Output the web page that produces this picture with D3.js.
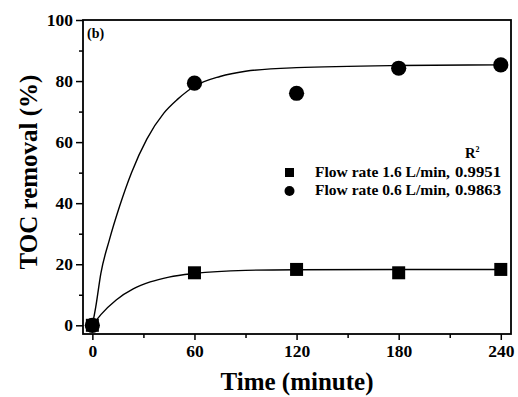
<!DOCTYPE html>
<html>
<head>
<meta charset="utf-8">
<script src="https://cdn.jsdelivr.net/npm/d3@7"></script>
<style>
  body { margin: 0; background: #fff; }
  svg { display: block; }
  svg text { font-family: "Liberation Serif", "Times New Roman", serif; font-weight: bold; fill: #000; }
</style>
</head>
<body>
<svg id="chart"></svg>
<script>
// measured points
var times = [0, 60, 120, 180, 240];
var flow16 = [0, 17.2, 18.3, 17.2, 18.3];   // squares
var flow06 = [0, 79.3, 76.0, 84.2, 85.3];   // circles

// fitted curves [time, %]
var fit16 = [[0,0],[5,3.5],[14,8.3],[24,11.9],[34,14.2],[45,15.8],[60,17.0],[90,18.0],[120,18.2],[180,18.3],[240,18.3]];
var fit06 = [[0,0],[2,6],[5,17],[10,28],[16,39],[23,50],[32,61],[42,69.5],[50,74],[60,78.3],[75,81.5],[90,83.2],[120,84.4],[180,85.1],[240,85.3]];

var legendNames = ["Flow rate 1.6 L/min,", "Flow rate 0.6 L/min,"];
var r2Values = ["0.9951", "0.9863"];
var xTicks = [0, 60, 120, 180, 240];
var yTicks = [0, 20, 40, 60, 80, 100];

var width = 518, height = 397;
var margin = {top: 20, right: 7, bottom: 63, left: 83};

var svg = d3.select("#chart").attr("width", width).attr("height", height);

var x = d3.scaleLinear().domain([-5.5, 246]).range([margin.left, width - margin.right]);
var y = d3.scaleLinear().domain([-2.85, 100]).range([height - margin.bottom, margin.top]);

// minor ticks
svg.append("g")
  .attr("transform", "translate(0," + (height - margin.bottom) + ")")
  .call(d3.axisBottom(x).tickValues([30, 90, 150, 210]).tickSize(4).tickFormat(""))
  .call(g => g.select(".domain").remove());
svg.append("g")
  .attr("transform", "translate(" + margin.left + ",0)")
  .call(d3.axisLeft(y).tickValues([10, 30, 50, 70, 90]).tickSize(4).tickFormat(""))
  .call(g => g.select(".domain").remove());

// major axes
var xAxis = svg.append("g")
  .attr("transform", "translate(0," + (height - margin.bottom) + ")")
  .call(d3.axisBottom(x).tickValues(xTicks).tickSize(6).tickPadding(5));
xAxis.select(".domain").remove();
xAxis.selectAll("text").style("font-size", "17.5px");

var yAxis = svg.append("g")
  .attr("transform", "translate(" + margin.left + ",0)")
  .call(d3.axisLeft(y).tickValues(yTicks).tickSize(7).tickPadding(3));
yAxis.select(".domain").remove();
yAxis.selectAll("text").style("font-size", "17.5px");

svg.selectAll(".tick line").attr("stroke", "#000").attr("stroke-width", 1.5);

// frame
svg.append("rect")
  .attr("x", margin.left).attr("y", margin.top)
  .attr("width", width - margin.right - margin.left)
  .attr("height", height - margin.bottom - margin.top)
  .attr("fill", "none").attr("stroke", "#000").attr("stroke-width", 1.8);

// fit lines
var line = d3.line().x(d => x(d[0])).y(d => y(d[1])).curve(d3.curveMonotoneX);
[fit16, fit06].forEach(f => {
  svg.append("path").datum(f).attr("d", line)
    .attr("fill", "none").attr("stroke", "#000").attr("stroke-width", 1.4);
});

// markers
var sq = 13;
svg.selectAll("rect.sq").data(times).enter().append("rect")
  .attr("class", "sq")
  .attr("x", d => x(d) - sq / 2)
  .attr("y", (d, i) => y(flow16[i]) - sq / 2)
  .attr("width", sq).attr("height", sq).attr("fill", "#000");
svg.selectAll("circle.ci").data(times).enter().append("circle")
  .attr("class", "ci")
  .attr("cx", d => x(d))
  .attr("cy", (d, i) => y(flow06[i]))
  .attr("r", 7.6).attr("fill", "#000");

// panel label
svg.append("text").attr("x", 87).attr("y", 38).style("font-size", "14px").text("(b)");

// legend
var lg = svg.append("g").style("font-size", "14.5px");
var r2 = lg.append("text").attr("x", 465).attr("y", 158);
r2.append("tspan").text("R");
r2.append("tspan").attr("dy", -6).style("font-size", "8px").text("2");
lg.append("rect").attr("x", 285).attr("y", 168).attr("width", 9).attr("height", 9).attr("fill", "#000");
lg.append("circle").attr("cx", 289.5).attr("cy", 191).attr("r", 5).attr("fill", "#000");
legendNames.forEach((n, i) => {
  lg.append("text").attr("x", 315).attr("y", 177 + i * 18)
    .attr("textLength", 135).attr("lengthAdjust", "spacingAndGlyphs").text(n);
  lg.append("text").attr("x", 455).attr("y", 177 + i * 18)
    .attr("textLength", 46).attr("lengthAdjust", "spacingAndGlyphs").text(r2Values[i]);
});

// axis titles
svg.append("text")
  .attr("x", (margin.left + width - margin.right) / 2).attr("y", 390)
  .attr("text-anchor", "middle").style("font-size", "25px").text("Time (minute)");
svg.append("text")
  .attr("transform", "translate(37,172) rotate(-90)")
  .attr("text-anchor", "middle").style("font-size", "25px").text("TOC removal (%)");
</script>
</body>
</html>
